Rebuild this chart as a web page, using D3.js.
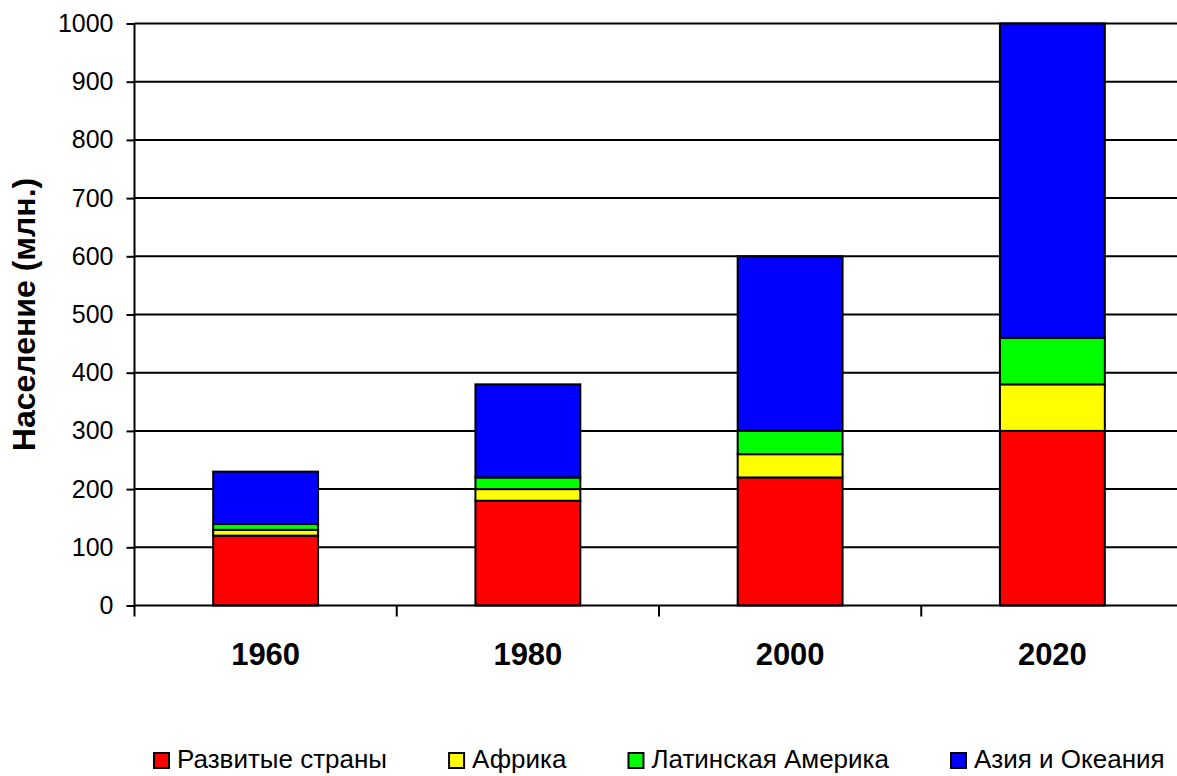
<!DOCTYPE html>
<html>
<head>
<meta charset="utf-8">
<script src="https://cdn.jsdelivr.net/npm/d3@7"></script>
<style>
    body { margin: 0; background: #fff; }
    svg { display: block; }
    svg text { font-family: Arial, "Liberation Sans", sans-serif; fill: #000; }
</style>
</head>
<body>
<svg id="chart" width="1177" height="776"></svg>
<script>
// Chart data (millions)
var years = ['1960', '1980', '2000', '2020'];
var seriesNames = ['Развитые страны', 'Африка', 'Латинская Америка', 'Азия и Океания'];
var developed = [120, 180, 220, 300];
var africa = [10, 20, 40, 80];
var latinAmerica = [10, 20, 40, 80];
var asiaOceania = [90, 160, 300, 540];
var yTicks = [0, 100, 200, 300, 400, 500, 600, 700, 800, 900, 1000];
var colors = ['#ff0000', '#ffff00', '#00ff00', '#0000ff'];

var svg = d3.select('#chart');

var padding = {t: 23.5, l: 134.5, b: 605.5, r: 1183.5};

// rows for the stack
var rows = years.map(function(y, i) {
    return {
        year: y,
        s0: developed[i],
        s1: africa[i],
        s2: latinAmerica[i],
        s3: asiaOceania[i]
    };
});

var stack = d3.stack().keys(['s0', 's1', 's2', 's3']);
var stacked = stack(rows);

// Scales
var xOuter = d3.scaleBand().domain(years).range([padding.l, padding.r]).padding(0);
var xScale = d3.scaleBand().domain(years).range([padding.l, padding.r])
    .paddingInner(0.6).paddingOuter(0.3);
var yScale = d3.scaleLinear().domain([0, 1000]).range([padding.b, padding.t]);

// Gridlines
svg.append('g')
    .attr('class', 'grid')
    .selectAll('line')
    .data(yTicks.filter(d => d > 0))
    .enter()
    .append('line')
    .attr('x1', padding.l)
    .attr('x2', padding.r)
    .attr('y1', d => yScale(d))
    .attr('y2', d => yScale(d))
    .attr('stroke', '#000')
    .attr('stroke-width', 2);

// Bars
var layers = svg.append('g')
    .selectAll('g')
    .data(stacked)
    .enter()
    .append('g')
    .attr('fill', (d, i) => colors[i]);

layers.selectAll('rect')
    .data(d => d)
    .enter()
    .append('rect')
    .attr('x', d => xScale(d.data.year))
    .attr('width', xScale.bandwidth())
    .attr('y', d => yScale(d[1]))
    .attr('height', d => yScale(d[0]) - yScale(d[1]))
    .attr('stroke', '#000')
    .attr('stroke-width', 2);

// Y axis
var yAxis = d3.axisLeft(yScale)
    .tickValues(yTicks)
    .tickFormat(d3.format('d'))
    .tickSize(8)
    .tickPadding(13);

var yAxisGroup = svg.append('g')
    .attr('transform', 'translate(' + padding.l + ',0)')
    .call(yAxis)
    .attr('font-family', null)
    .attr('font-size', null);

yAxisGroup.select('.domain').attr('stroke-width', 2).attr('d', 'M0,' + padding.t + 'V' + padding.b);
yAxisGroup.selectAll('.tick line').attr('stroke-width', 2);
yAxisGroup.selectAll('.tick text')
    .style('font-size', '25px');

// X axis: baseline plus ticks at category boundaries
svg.append('line')
    .attr('x1', padding.l)
    .attr('x2', padding.r)
    .attr('y1', padding.b)
    .attr('y2', padding.b)
    .attr('stroke', '#000')
    .attr('stroke-width', 2);

var boundaries = years.map(d => xOuter(d)).concat([xOuter(years[years.length - 1]) + xOuter.bandwidth()]);
svg.append('g')
    .selectAll('line')
    .data(boundaries)
    .enter()
    .append('line')
    .attr('x1', d => d)
    .attr('x2', d => d)
    .attr('y1', padding.b)
    .attr('y2', padding.b + 11)
    .attr('stroke', '#000')
    .attr('stroke-width', 2);

svg.append('g')
    .selectAll('text')
    .data(years)
    .enter()
    .append('text')
    .attr('x', d => xOuter(d) + xOuter.bandwidth() / 2)
    .attr('y', 665)
    .attr('text-anchor', 'middle')
    .style('font-size', '31px')
    .style('font-weight', 'bold')
    .text(d => d);

// Y axis title
svg.append('text')
    .attr('transform', 'translate(35,' + ((padding.t + padding.b) / 2) + ') rotate(-90)')
    .attr('text-anchor', 'middle')
    .style('font-size', '32px')
    .style('font-weight', 'bold')
    .text('Население (млн.)');

// Legend
var legend = svg.append('g').attr('class', 'legend');
var lx = 153;
seriesNames.forEach(function(name, i) {
    var item = legend.append('g').attr('transform', 'translate(' + lx + ',752)');
    item.append('rect')
        .attr('x', 1)
        .attr('y', 1)
        .attr('width', 15)
        .attr('height', 15)
        .attr('fill', colors[i])
        .attr('stroke', '#000')
        .attr('stroke-width', 2);
    var t = item.append('text')
        .attr('x', 24)
        .attr('y', 16)
        .style('font-size', '26px')
        .text(name);
    lx += 24 + t.node().getComputedTextLength() + 61;
});
</script>
</body>
</html>
